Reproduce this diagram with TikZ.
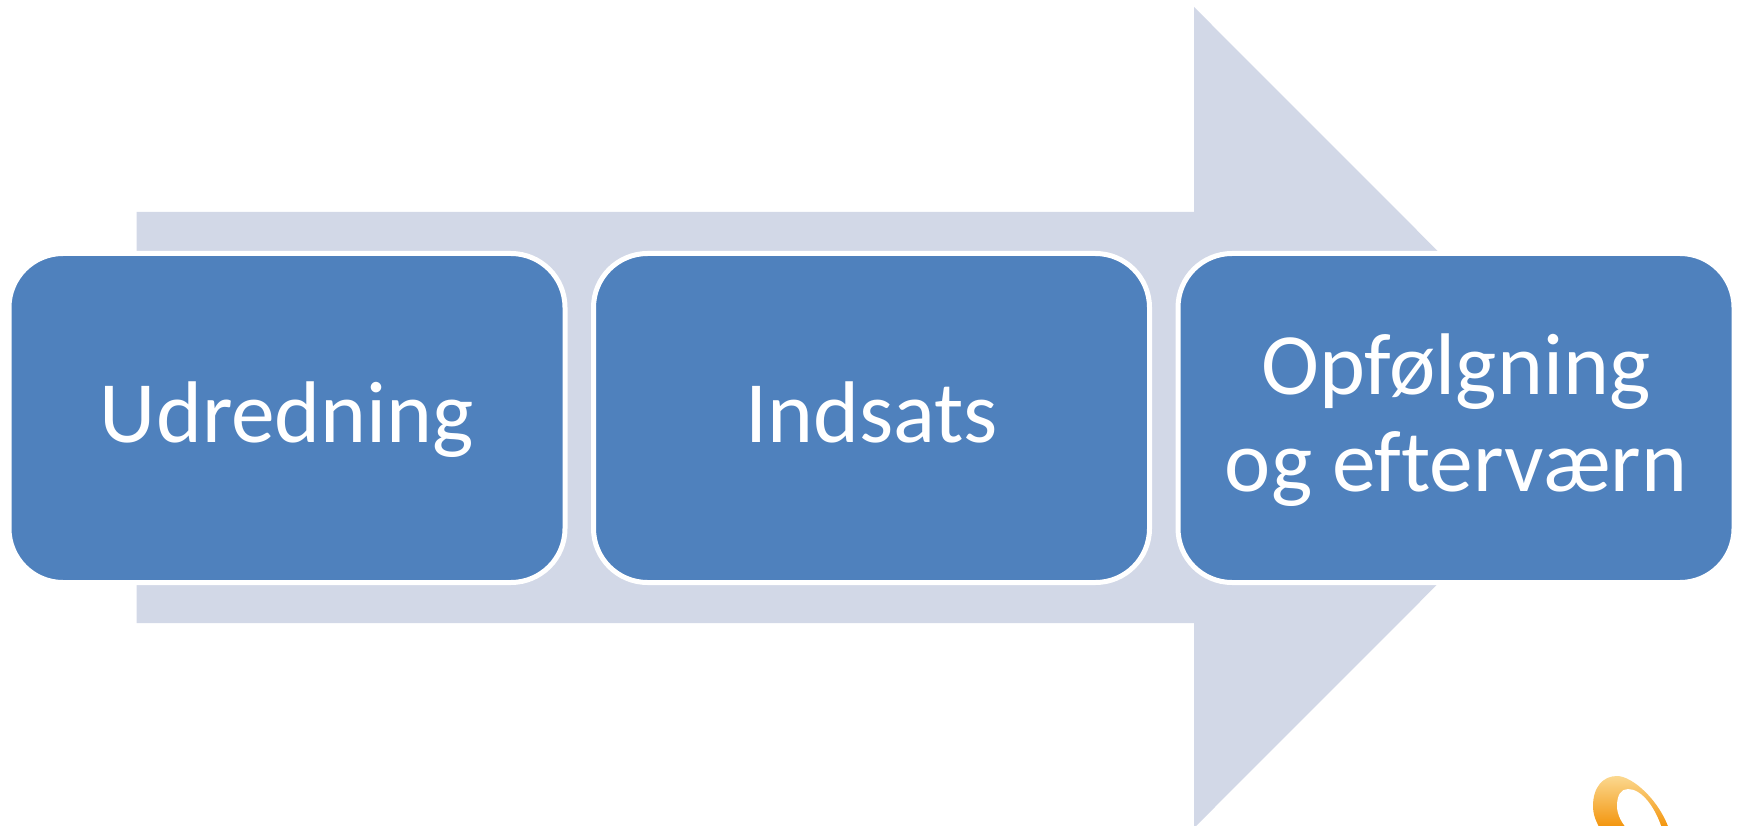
\documentclass[tikz,border=0pt]{standalone}
\usepackage{fontspec}
\usepackage{xcolor}
\setmainfont[Ligatures=NoCommon]{Carlito}
\usetikzlibrary{positioning}
\definecolor{arrowgrey}{HTML}{D2D8E7}
\definecolor{boxblue}{HTML}{4F81BD}
\definecolor{swooshlight}{HTML}{FBD88F}
\definecolor{swooshdark}{HTML}{F28E00}
\newcommand\stagestrut{\rule[-24pt]{0pt}{97pt}}
\tikzset{
    stage/.style={draw=white, line width=5pt, fill=boxblue, rounded corners=54pt,
        minimum width=556pt, minimum height=329pt, inner sep=0pt, text=white,
        align=center, font=\fontsize{87.5}{97}\selectfont},
}

\begin{document}
\begin{tikzpicture}[x=1pt,y=-1pt]
    \useasboundingbox (0,0) rectangle (1739,826);
    \fill[arrowgrey] (136.5,212) -- (1194,212) -- (1194,7) -- (1604,417.5) -- (1194,828) -- (1194,623) -- (136.5,623) -- cycle;
    % swoosh in the corner
    \begin{scope}
        \clip (0,0) rectangle (1739,826);
        \shade[top color=swooshlight, bottom color=swooshdark]
            (1593,806) .. controls (1593,787) and (1603,776) .. (1617,776)
            .. controls (1632,776) and (1660,800) .. (1670,832) -- (1602,832)
            .. controls (1596,822) and (1593,815) .. (1593,806) -- cycle;
        \fill[white] (1617,806) .. controls (1617,795) and (1621,789) .. (1628,789)
            .. controls (1642,789) and (1656,808) .. (1663,832) -- (1630,832)
            .. controls (1622,824) and (1617,815) .. (1617,806) -- cycle;
    \end{scope}
    \node[stage] (udredning) at (287,418) {\stagestrut Udredning};
    \node[stage, right=23.5pt of udredning] (indsats) {\stagestrut Indsats};
    \node[stage, right=23.5pt of indsats] (opfolgning) {\stagestrut Opfølgning\\\stagestrut og efterværn};
\end{tikzpicture}
\end{document}
